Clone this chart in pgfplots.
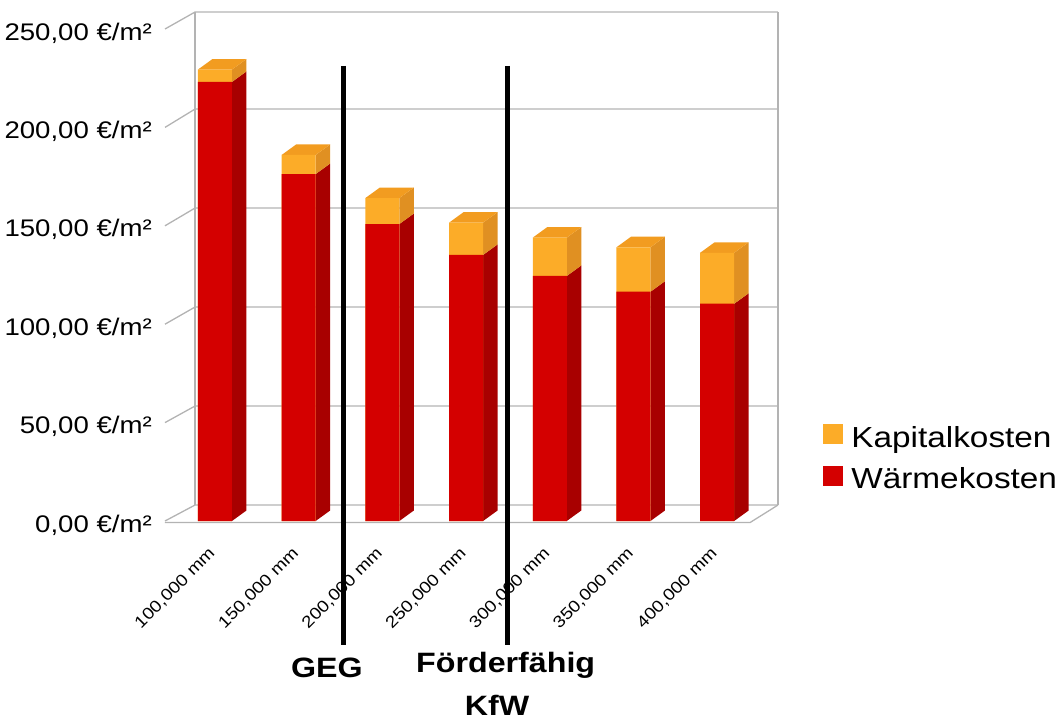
\documentclass[border=0pt]{standalone}
\usepackage{fontspec}
\setmainfont{Liberation Sans}[FakeStretch=1.15]
\usepackage{pgfplots}
\pgfplotsset{compat=1.18}
\usepackage{pgfplotstable}
\definecolor{redfront}{RGB}{212,0,0}
\definecolor{redside}{RGB}{168,0,0}
\definecolor{orafront}{RGB}{252,172,40}
\definecolor{oraside}{RGB}{224,144,34}
\definecolor{oratop}{RGB}{242,156,32}
\definecolor{gridgray}{RGB}{179,179,179}

\pgfplotstableread{
x waerme kapital
0 223.1 6.3
1 176.3 9.7
2 150.9 13.2
3 135.2 16.4
4 124.5 19.5
5 116.5 22.6
6 110.4 25.9
}\data

\begin{document}
\begin{tikzpicture}
\path[use as bounding box] (0,0) rectangle (1061pt,718pt);
\begin{axis}[
  at={(165pt,197pt)}, anchor=south west,
  scale only axis, width=585pt, height=492pt,
  xmin=-0.597, xmax=6.392, ymin=0, ymax=250,
  clip=false,
  axis line style={draw=none},
  tick style={draw=none},
  ytick={0,50,...,250},
  yticklabel={\pgfmathprintnumber{\tick}~€/m²},
  /pgf/number format/fixed,
  /pgf/number format/fixed zerofill,
  /pgf/number format/precision=2,
  /pgf/number format/use comma,
  /pgf/number format/assume math mode=true,
  yticklabel style={font=\fontsize{24}{28}\selectfont, anchor=east, inner sep=0pt, xshift=-13pt, yshift=-4pt},
  xtick={-0.03,0.97,1.97,2.97,3.97,4.97,5.97},
  xticklabels={{100,000 mm},{150,000 mm},{200,000 mm},{250,000 mm},{300,000 mm},{350,000 mm},{400,000 mm}},
  xticklabel style={font=\fontsize{16.5}{18}\selectfont, inner sep=0pt, anchor=east, yshift=-30pt, rotate=45},
  legend style={at={(rel axis cs:1.125,0.128)}, anchor=west, draw=none, fill=none, inner sep=0pt,
    font=\fontsize{29}{33}\selectfont, row sep=15pt},
  legend cell align=left,
  legend image code/.code={\fill[#1] (0pt,-7pt) rectangle (20pt,13pt); \path (26pt,0pt);},
]
% back wall, left wall, floor
\draw[gridgray, line width=1.3pt] (axis cs:-0.597,0) -- (axis cs:-0.239,8.1) -- (axis cs:6.726,8.1);
\draw[gridgray, line width=1.3pt] (axis cs:-0.597,50) -- (axis cs:-0.239,58.4) -- (axis cs:6.726,58.4);
\draw[gridgray, line width=1.3pt] (axis cs:-0.597,100) -- (axis cs:-0.239,108.7) -- (axis cs:6.726,108.7);
\draw[gridgray, line width=1.3pt] (axis cs:-0.597,150) -- (axis cs:-0.239,159.0) -- (axis cs:6.726,159.0);
\draw[gridgray, line width=1.3pt] (axis cs:-0.597,200) -- (axis cs:-0.239,209.3) -- (axis cs:6.726,209.3);
\draw[gridgray, line width=1.3pt] (axis cs:-0.597,250) -- (axis cs:-0.239,258.6) -- (axis cs:6.726,258.6);
\draw[gridgray, line width=1.3pt] (axis cs:-0.239,8.1) -- (axis cs:-0.239,258.6);
\draw[gridgray, line width=1.3pt] (axis cs:6.726,8.1) -- (axis cs:6.726,258.6);
\draw[gridgray, line width=1.3pt] (axis cs:-0.597,-0.8) -- (axis cs:6.392,-0.8) -- (axis cs:6.726,8.1);

% 3D side and top faces
\pgfplotsinvokeforeach{0,...,6}{
  \pgfplotstablegetelem{#1}{waerme}\of\data \let\w=\pgfplotsretval
  \pgfplotstablegetelem{#1}{kapital}\of\data \let\k=\pgfplotsretval
  \pgfmathsetmacro\t{\w+\k}
  \pgfmathsetmacro\xr{#1+0.2031}
  \pgfmathsetmacro\xl{#1-0.2031}
  \pgfmathsetmacro\xrb{#1+0.2031+0.173}
  \pgfmathsetmacro\xlb{#1-0.2031+0.173}
  \pgfmathsetmacro\wb{\w+5.34}
  \pgfmathsetmacro\tb{\t+5.34}
  \addplot[forget plot, fill=redside, draw=none] coordinates {(\xr,0) (\xrb,5.34) (\xrb,\wb) (\xr,\w)};
  \addplot[forget plot, fill=oraside, draw=none] coordinates {(\xr,\w) (\xrb,\wb) (\xrb,\tb) (\xr,\t)};
  \addplot[forget plot, fill=oratop, draw=none] coordinates {(\xl,\t) (\xr,\t) (\xrb,\tb) (\xlb,\tb)};
}

\addplot[ybar, bar width=34pt, bar shift=0pt, fill=orafront, draw=none]
  table[x=x, y expr=\thisrow{waerme}+\thisrow{kapital}] {\data};
\addlegendentry{Kapitalkosten}
\addplot[ybar, bar width=34pt, bar shift=0pt, fill=redfront, draw=none]
  table[x=x, y=waerme] {\data};
\addlegendentry{Wärmekosten}

% annotation lines
\draw[black, line width=5pt] (axis cs:1.535,231.2) -- (axis cs:1.535,-63);
\draw[black, line width=5pt] (axis cs:3.489,231.2) -- (axis cs:3.489,-63);
\node[font=\fontsize{28}{32}\selectfont\bfseries, anchor=base, inner sep=0pt] at (axis cs:1.338,-79.3) {GEG};
\node[font=\fontsize{28}{32}\selectfont\bfseries, anchor=base, inner sep=0pt] at (axis cs:3.473,-77.2) {Förderfähig};
\node[font=\fontsize{28}{32}\selectfont\bfseries, anchor=base, inner sep=0pt] at (axis cs:3.37,-98.6) {KfW};
\end{axis}
\end{tikzpicture}
\end{document}
